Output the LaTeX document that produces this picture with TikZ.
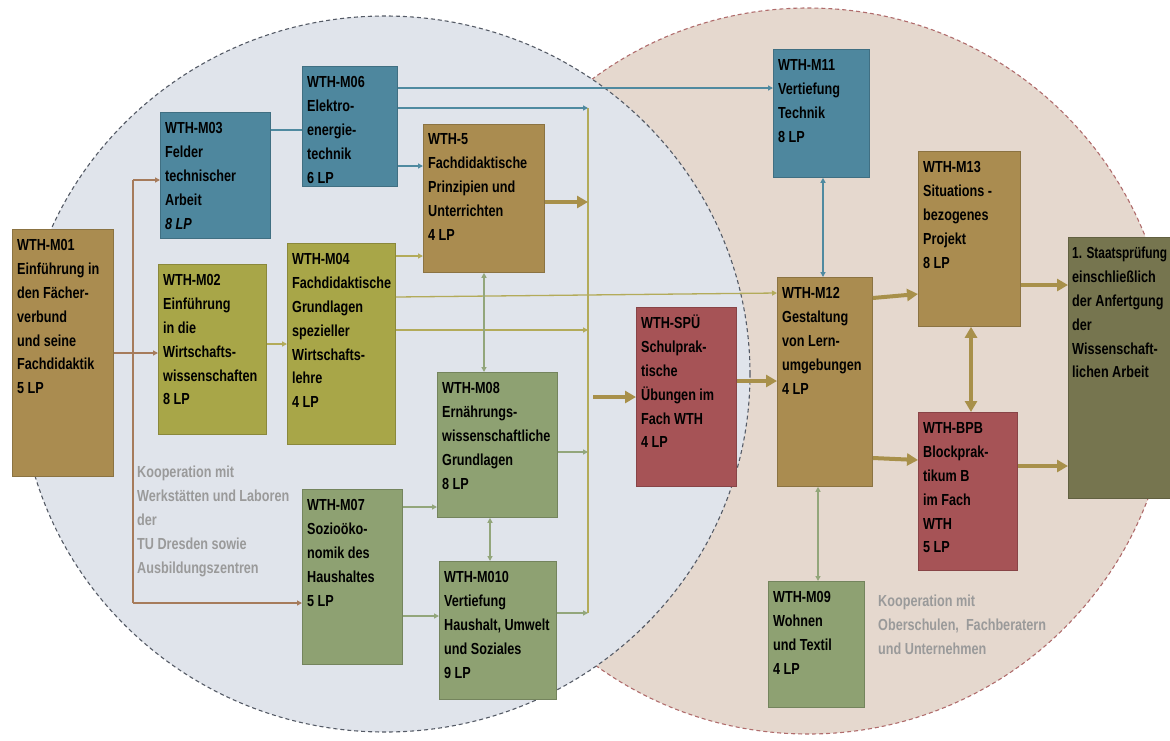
\documentclass[tikz,border=0pt]{standalone}
\usepackage{fontspec}
\setmainfont{Liberation Sans}[FakeStretch=0.79]
\usetikzlibrary{arrows.meta}

% fills
\definecolor{cLeft}{HTML}{E0E4EB}
\definecolor{cRight}{HTML}{E5D8CE}
\definecolor{cLeftEdge}{HTML}{555B66}
\definecolor{cRightEdge}{HTML}{B06C6C}
\definecolor{cGold}{HTML}{AA8C50}
\definecolor{cTeal}{HTML}{4E879E}
\definecolor{cOlive}{HTML}{A8A648}
\definecolor{cSage}{HTML}{8EA172}
\definecolor{cRed}{HTML}{A65356}
\definecolor{cExam}{HTML}{76754F}
% connectors
\definecolor{lBrown}{HTML}{A67B5B}
\definecolor{lTeal}{HTML}{4F8AA0}
\definecolor{lOlive}{HTML}{B3AB5A}
\definecolor{lSage}{HTML}{93A67B}
\definecolor{lGold}{HTML}{A8904A}
\definecolor{cNote}{HTML}{9A9A9A}

\begin{document}
\begin{tikzpicture}[x=1pt,y=-1pt,
  modbox/.style={draw=#1!82!black, line width=0.8pt, fill=#1, anchor=north west, inner sep=0pt},
  txt/.style={anchor=north west, inner sep=0pt, align=left,
    font=\bfseries\fontsize{16}{23.8}\selectfont},
  note/.style={txt, text=cNote},
  thin/.style={line width=1.3pt, -{Triangle[length=5pt,width=5pt]}},
  thinboth/.style={line width=1.3pt, {Triangle[length=5pt,width=5pt]}-{Triangle[length=5pt,width=5pt]}},
  thick/.style={line width=4pt, color=lGold, -{Triangle[length=11pt,width=12pt]}},
  thickboth/.style={line width=4pt, color=lGold, {Triangle[length=11pt,width=12pt]}-{Triangle[length=11pt,width=12pt]}},
  ring/.style={line width=1.1pt, dash pattern=on 4pt off 3pt}
]
\useasboundingbox (0,0) rectangle (1170,740);

% the two overlapping areas
\path[ring, fill=cRight, draw=cRightEdge] (808,371) ellipse [x radius=363pt, y radius=363pt];
\path[ring, fill=cLeft, draw=cLeftEdge] (385,374) ellipse [x radius=365pt, y radius=358pt];

% modules
\node[modbox=cGold,  minimum width=101pt, minimum height=247pt] (m01) at (12,229) {};
\node[modbox=cTeal,  minimum width=110pt, minimum height=126pt] (m03) at (160,112) {};
\node[modbox=cTeal,  minimum width=95pt,  minimum height=120pt] (m06) at (302,66) {};
\node[modbox=cGold,  minimum width=121pt, minimum height=148pt] (w5) at (423,124) {};
\node[modbox=cOlive, minimum width=108pt, minimum height=170pt] (m02) at (158,264) {};
\node[modbox=cOlive, minimum width=108pt, minimum height=201pt] (m04) at (287,243) {};
\node[modbox=cSage,  minimum width=120pt, minimum height=145pt] (m08) at (437,372) {};
\node[modbox=cSage,  minimum width=117pt, minimum height=138pt] (m010) at (439,561) {};
\node[modbox=cSage,  minimum width=100pt, minimum height=175pt] (m07) at (302,489) {};
\node[modbox=cRed,   minimum width=100pt, minimum height=179pt] (spu) at (636,307) {};
\node[modbox=cTeal,  minimum width=96pt,  minimum height=128pt] (m11) at (773,49) {};
\node[modbox=cGold,  minimum width=102pt, minimum height=175pt] (m13) at (918,151) {};
\node[modbox=cGold,  minimum width=95pt,  minimum height=209pt] (m12) at (777,277) {};
\node[modbox=cRed,   minimum width=99pt,  minimum height=158pt] (bpb) at (918,412) {};
\node[modbox=cExam,  minimum width=104pt, minimum height=261pt] (st) at (1068,237) {};
\node[modbox=cSage,  minimum width=96pt,  minimum height=126pt] (m09) at (768,581) {};

% module texts
\node[txt] (m01t) at ([shift={(5pt,-5pt)}]m01.north west) {\strut WTH-M01\\Einführung in\\den Fächer-\\verbund\\und seine\\Fachdidaktik\\5 LP};
\node[txt] (m03t) at ([shift={(5pt,-5pt)}]m03.north west) {\strut WTH-M03\\Felder\\technischer\\Arbeit\\\textit{8 LP}};
\node[txt] (m06t) at ([shift={(5pt,-5pt)}]m06.north west) {\strut WTH-M06\\Elektro-\\energie-\\technik\\6 LP};
\node[txt] (w5t) at ([shift={(5pt,-4pt)}]w5.north west) {\strut WTH-5\\Fachdidaktische\\Prinzipien und\\Unterrichten\\4 LP};
\node[txt] (m02t) at ([shift={(5pt,-5pt)}]m02.north west) {\strut WTH-M02\\Einführung\\in die\\Wirtschafts-\\wissenschaften\\8 LP};
\node[txt] (m04t) at ([shift={(5pt,-5pt)}]m04.north west) {\strut WTH-M04\\Fachdidaktische\\Grundlagen\\spezieller\\Wirtschafts-\\lehre\\4 LP};
\node[txt] (m08t) at ([shift={(5pt,-5pt)}]m08.north west) {\strut WTH-M08\\Ernährungs-\\wissenschaftliche\\Grundlagen\\8 LP};
\node[txt] (m010t) at ([shift={(5pt,-5pt)}]m010.north west) {\strut WTH-M010\\Vertiefung\\Haushalt, Umwelt\\und Soziales\\9 LP};
\node[txt] (m07t) at ([shift={(5pt,-5pt)}]m07.north west) {\strut WTH-M07\\Sozioöko-\\nomik des\\Haushaltes\\5 LP};
\node[txt] (sput) at ([shift={(5pt,-5pt)}]spu.north west) {\strut WTH-SPÜ\\Schulprak-\\tische\\Übungen im\\Fach WTH\\4 LP};
\node[txt] (m11t) at ([shift={(5pt,-5pt)}]m11.north west) {\strut WTH-M11\\Vertiefung\\Technik\\8 LP};
\node[txt] (m13t) at ([shift={(5pt,-5pt)}]m13.north west) {\strut WTH-M13\\Situations -\\bezogenes\\Projekt\\8 LP};
\node[txt] (m12t) at ([shift={(5pt,-5pt)}]m12.north west) {\strut WTH-M12\\Gestaltung\\von Lern-\\umgebungen\\4 LP};
\node[txt] (bpbt) at ([shift={(5pt,-5pt)}]bpb.north west) {\strut WTH-BPB\\Blockprak-\\tikum B\\im Fach\\WTH\\5 LP};
\node[txt] (stt) at ([shift={(4pt,-5pt)}]st.north west) {\strut \scalebox{0.94}[1]{1. Staatsprüfung}\\einschließlich\\der Anfertgung\\der\\Wissenschaft-\\lichen Arbeit};
\node[txt] (m09t) at ([shift={(5pt,-5pt)}]m09.north west) {\strut WTH-M09\\Wohnen\\und Textil\\4 LP};

% partner notes
\node[note] (coopA) at (137,461) {\strut Kooperation mit\\Werkstätten und Laboren\\der\\TU Dresden sowie\\Ausbildungszentren};
\node[note] (coopB) at (878,590) {\strut Kooperation mit\\Oberschulen,\ \ Fachberatern\\und Unternehmen};

% collector line in the left area
\coordinate (busT) at (588,108);
\coordinate (busB) at (588,613);
\draw[lOlive, line width=1.3pt] (busT) -- (busB);

% from WTH-M01
\coordinate (kT) at (133,180);
\coordinate (kB) at (133,603);
\draw[lBrown, line width=1.3pt] (kT) -- (kB);
\draw[lBrown, thin] (kT) -- (kT -| m03.west);
\draw[lBrown, thin] (kB) -- (kB -| m07.west);
\draw[lBrown, thin] ([yshift=-124pt]m01.north east) -- ([yshift=-89pt]m02.north west);

% technology strand
\draw[lTeal, line width=1.3pt] ([yshift=-18pt]m03.north east) -- ([yshift=-64pt]m06.north west);
\draw[lTeal, thin] ([yshift=-22pt]m06.north east) -- ([yshift=-39pt]m11.north west);
\draw[lTeal, thin] ([yshift=-42pt]m06.north east) -- (busT);
\draw[lTeal, thin] ([yshift=-100pt]m06.north east) -- ([yshift=-42pt]w5.north west);
\draw[lTeal, thinboth] ([xshift=50pt]m11.south west) -- ([xshift=46pt]m12.north west);

% economics strand
\draw[lOlive, thin] ([yshift=-80pt]m02.north east) -- ([yshift=-101pt]m04.north west);
\draw[lOlive, thin] ([yshift=-13pt]m04.north east) -- ([yshift=-132pt]w5.north west);
\draw[lOlive, thin] ([yshift=-54pt]m04.north east) -- ([yshift=-16pt]m12.north west);
\draw[lOlive, thin] ([yshift=-87pt]m04.north east) coordinate (m04c) -- (m04c -| busT);

% household strand
\draw[lSage, thinboth] ([xshift=61pt]w5.south west) -- ([xshift=47pt]m08.north west);
\draw[lSage, thin] ([yshift=-80pt]m08.north east) coordinate (m08c) -- (m08c -| busT);
\draw[lSage, thin] ([yshift=-18pt]m07.north east) -- ([yshift=-135pt]m08.north west);
\draw[lSage, thin] ([yshift=-127pt]m07.north east) -- ([yshift=-55pt]m010.north west);
\draw[lSage, thinboth] ([xshift=53pt]m08.south west) -- ([xshift=51pt]m010.north west);
\draw[lSage, thin] ([yshift=-52pt]m010.north east) -- (busB);
\draw[lSage, thinboth] ([xshift=41pt]m12.south west) -- ([xshift=50pt]m09.north west);

% main path
\draw[thick] ([yshift=-78pt]w5.north east) coordinate (w5c) -- (w5c -| busT);
\coordinate (spuc) at ([yshift=-90pt]spu.north west);
\draw[thick] ([xshift=5pt]spuc -| busT) -- (spuc);
\draw[thick] ([yshift=-74pt]spu.north east) -- ([yshift=-104pt]m12.north west);
\draw[thick] ([yshift=-21pt]m12.north east) -- ([yshift=-143pt]m13.north west);
\draw[thick] ([yshift=-181pt]m12.north east) -- ([yshift=-48pt]bpb.north west);
\draw[thickboth] ([xshift=53pt]m13.south west) -- ([xshift=53pt]bpb.north west);
\draw[thick] ([yshift=-134pt]m13.north east) -- ([yshift=-48pt]st.north west);
\draw[thick] ([yshift=-54pt]bpb.north east) -- ([yshift=-229pt]st.north west);
\end{tikzpicture}
\end{document}
